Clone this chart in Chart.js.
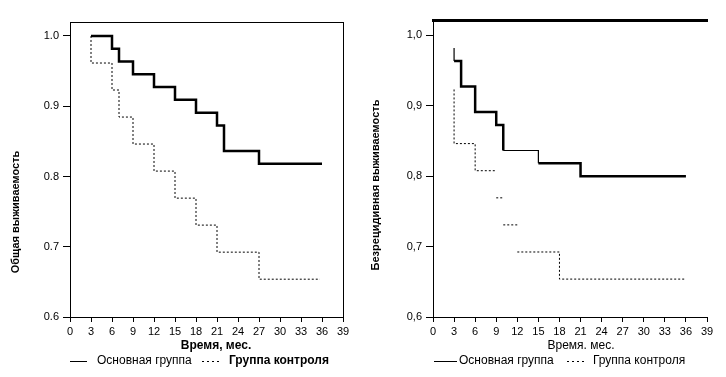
<!DOCTYPE html>
<html><head><meta charset="utf-8">
<script src="https://cdn.jsdelivr.net/npm/chart.js@4"></script>
<style>
html,body{margin:0;padding:0;background:#fff;}
#wrap{position:relative;width:726px;height:377px;overflow:hidden;background:#fff;}
canvas{position:absolute;top:0;}
</style></head><body>
<div id="wrap">
<canvas id="c1" width="360" height="377" style="left:0"></canvas>
<canvas id="c2" width="366" height="377" style="left:360px"></canvas>
</div>
<script>
// ---- data ----
const xTickValues = [0,3,6,9,12,15,18,21,24,27,30,33,36,39];
const yTickValues = [0.6,0.7,0.8,0.9,1.0];
const yTickLabelsLeft = ['0.6','0.7','0.8','0.9','1.0'];
const yTickLabelsRight = ['0,6','0,7','0,8','0,9','1,0'];
const seriesNames = ['Основная группа','Группа контроля'];
const yTitleLeft = 'Общая выживаемость';
const yTitleRight = 'Безрецидивная выживаемость';
const xTitleLeft = 'Время, мес.';
const xTitleRight = 'Время. мес.';

// Overall survival (left)
const osMainTimes = [3,6,7,9,12,15,18,21,22,27,36];
const osMainSurv  = [1.0,0.9818,0.9636,0.9455,0.9273,0.9091,0.8909,0.8727,0.8364,0.8182,0.8182];
const osCtrlTimes = [3,3,6,7,9,12,15,18,21,27,35.7];
const osCtrlSurv  = [1.0,0.9615,0.9231,0.8846,0.8462,0.8077,0.7692,0.7308,0.6923,0.6538,0.6538];
// Disease-free survival (right)
const dfsMainTimes = [3,3,4,6,9,10,15,21,36];
const dfsMainSurv  = [0.9818,0.9636,0.9273,0.8909,0.8727,0.8364,0.8182,0.80,0.80];
const dfsCtrlTimes = [3,3,6,9,9,9,10,10,10,12,12,12,18,36];
const dfsCtrlSurv  = [0.9231,0.8462,0.8077,0.8077,null,0.7692,0.7692,null,0.7308,0.7308,null,0.6923,0.6538,0.6538];

// ---- rendering ----
const FONT = "'Liberation Sans', Arial, Helvetica, sans-serif";
Chart.defaults.font.family = FONT;
Chart.defaults.font.size = 11;
Chart.defaults.color = '#000';

const pts = (ts, ss) => ts.map((t, i) => ({x: t, y: ss[i]}));

const textLayer = {
  id: 'textLayer',
  afterDraw(chart, args, o) {
    const ctx = chart.ctx;
    ctx.save();
    ctx.fillStyle = '#000';
    ctx.strokeStyle = '#000';
    // y title
    ctx.save();
    ctx.translate(o.yTitle.x, o.yTitle.y);
    ctx.rotate(-Math.PI / 2);
    ctx.font = o.yTitle.font;
    ctx.textAlign = 'center';
    ctx.textBaseline = 'middle';
    ctx.fillText(o.yTitle.text, 0, 0);
    ctx.restore();
    // x title
    ctx.font = o.xTitle.font;
    ctx.textAlign = 'center';
    ctx.textBaseline = 'middle';
    ctx.fillText(o.xTitle.text, o.xTitle.x, o.xTitle.y);
    // legend
    const ly = o.legend.y;
    o.legend.items.forEach(it => {
      ctx.beginPath();
      ctx.lineWidth = 1;
      ctx.setLineDash(it.dash);
      ctx.moveTo(it.x0, Math.floor(ly) + 0.5);
      ctx.lineTo(it.x1, Math.floor(ly) + 0.5);
      ctx.stroke();
      ctx.setLineDash([]);
      ctx.font = it.font;
      ctx.textAlign = 'left';
      ctx.textBaseline = 'middle';
      ctx.fillText(it.text, it.tx, ly);
    });
    ctx.restore();
  }
};

function makeScales(cfg) {
  const s = {
    x: {
      type: 'linear', position: 'bottom', min: 0, max: 39,
      afterBuildTicks: sc => { sc.ticks = xTickValues.map(v => ({value: v})); },
      afterFit: sc => { sc.height = 20; },
      grid: {display: true, drawOnChartArea: false, drawTicks: true, tickLength: 5, color: '#000', lineWidth: 1},
      border: {display: true, color: '#000', width: 1},
      ticks: {padding: 3, color: '#000', font: {size: 11}, maxRotation: 0, autoSkip: false, callback: v => String(v)}
    },
    y: {
      type: 'linear', position: 'left', min: 0.6, max: cfg.ymax,
      afterBuildTicks: sc => { sc.ticks = yTickValues.map(v => ({value: v})); },
      afterFit: sc => { sc.width = cfg.yWidth; },
      grid: {display: true, drawOnChartArea: false, drawTicks: true, tickLength: 7, color: '#000', lineWidth: 1},
      border: {display: true, color: '#000', width: 1},
      ticks: {padding: 4, color: '#000', font: {size: 11}, callback: (v, i) => cfg.yLabels[i]}
    },
    xTop: {
      type: 'linear', position: 'top', min: 0, max: 39,
      ticks: {display: false}, grid: {display: false, drawTicks: false},
      border: {display: true, color: '#000', width: cfg.topWidth},
      afterFit: sc => { sc.height = 0; }
    }
  };
  if (cfg.rightBorder) {
    s.yRight = {
      type: 'linear', position: 'right', min: 0.6, max: cfg.ymax,
      ticks: {display: false}, grid: {display: false, drawTicks: false},
      border: {display: true, color: '#000', width: 1},
      afterFit: sc => { sc.width = 0; }
    };
  }
  return s;
}

function makeChart(id, cfg) {
  return new Chart(document.getElementById(id), {
    type: 'line',
    data: {
      datasets: [
        {label: seriesNames[0], data: cfg.main, xAxisID: 'x', yAxisID: 'y', stepped: 'before',
         borderColor: '#000', borderWidth: 2.5, pointRadius: 0, fill: false, spanGaps: false,
         borderCapStyle: 'butt', borderJoinStyle: 'miter',
         segment: {borderWidth: cfg.mainSegWidth}},
        {label: seriesNames[1], data: cfg.ctrl, xAxisID: 'x', yAxisID: 'y', stepped: 'before',
         borderColor: '#000', borderWidth: 1, borderDash: [2, 2], pointRadius: 0, fill: false, spanGaps: false}
      ]
    },
    options: {
      responsive: false, animation: false, devicePixelRatio: 1,
      layout: {padding: {left: 0, right: cfg.padRight, top: cfg.padTop, bottom: 40}},
      plugins: {legend: {display: false}, tooltip: {enabled: false}, textLayer: cfg.text},
      scales: makeScales(cfg)
    },
    plugins: [textLayer]
  });
}

makeChart('c1', {
  main: pts(osMainTimes, osMainSurv),
  ctrl: pts(osCtrlTimes, osCtrlSurv),
  mainSegWidth: () => 2.5,
  ymax: 1.0199, yWidth: 70, padRight: 17, padTop: 22, topWidth: 1, rightBorder: true,
  yLabels: yTickLabelsLeft,
  text: {
    yTitle: {text: yTitleLeft, x: 16, y: 212, font: "bold 11px " + FONT},
    xTitle: {text: xTitleLeft, x: 216, y: 346, font: "bold 12px " + FONT},
    legend: {y: 361, items: [
      {x0: 70, x1: 87, dash: [], text: seriesNames[0], tx: 97, font: "12px " + FONT},
      {x0: 202, x1: 221, dash: [2, 3], text: seriesNames[1], tx: 229, font: "bold 12px " + FONT}
    ]}
  }
});

makeChart('c2', {
  main: pts(dfsMainTimes, dfsMainSurv),
  ctrl: pts(dfsCtrlTimes, dfsCtrlSurv),
  mainSegWidth: ctx => (ctx.p0DataIndex === 0 || ctx.p0DataIndex === 5) ? 1.2 : 2.5,
  ymax: 1.0217, yWidth: 73, padRight: 19, padTop: 20, topWidth: 3, rightBorder: false,
  yLabels: yTickLabelsRight,
  text: {
    yTitle: {text: yTitleRight, x: 15.5, y: 185, font: "bold 11px " + FONT},
    xTitle: {text: xTitleRight, x: 221, y: 346, font: "12px " + FONT},
    legend: {y: 361, items: [
      {x0: 74, x1: 97, dash: [], text: seriesNames[0], tx: 99, font: "12px " + FONT},
      {x0: 207, x1: 227, dash: [2, 3], text: seriesNames[1], tx: 233, font: "12px " + FONT}
    ]}
  }
});
</script>
</body></html>
